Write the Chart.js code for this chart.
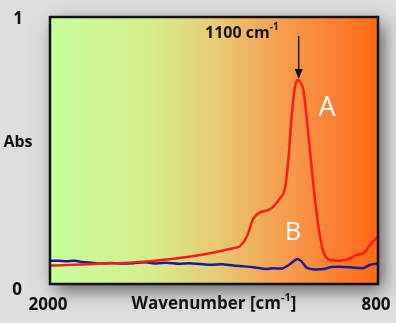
<!DOCTYPE html>
<html>
<head>
<meta charset="utf-8">
<script src="https://cdn.jsdelivr.net/npm/chart.js@4"></script>
<style>
  html, body { margin: 0; padding: 0; background: #dedede; }
  #wrap { width: 396px; height: 323px; }
</style>
</head>
<body>
<div id="wrap"><canvas id="irChart" width="396" height="323"></canvas></div>
<script>
// spectrum A (red)
const wnA = [2000, 1939, 1817, 1695, 1573, 1451, 1330, 1305, 1280, 1256, 1232, 1207, 1183, 1159, 1140, 1128, 1116, 1104, 1095, 1085, 1073, 1055, 1037, 1018, 1000, 976, 939, 902, 878, 854, 829, 801];
const absA = [0.069, 0.071, 0.076, 0.081, 0.092, 0.109, 0.134, 0.142, 0.177, 0.246, 0.268, 0.275, 0.29, 0.321, 0.36, 0.464, 0.627, 0.735, 0.764, 0.758, 0.727, 0.564, 0.376, 0.215, 0.121, 0.09, 0.087, 0.096, 0.109, 0.115, 0.146, 0.177];

// spectrum B (blue)
const wnB = [2000, 1970, 1940, 1910, 1880, 1850, 1817, 1780, 1740, 1695, 1650, 1610, 1573, 1530, 1490, 1451, 1410, 1370, 1330, 1290, 1250, 1207, 1180, 1150, 1128, 1110, 1095, 1080, 1062, 1040, 1000, 970, 940, 902, 870, 854, 829, 801];
const absB = [0.087, 0.087, 0.085, 0.087, 0.082, 0.08, 0.077, 0.079, 0.077, 0.078, 0.081, 0.077, 0.08, 0.076, 0.078, 0.075, 0.072, 0.074, 0.069, 0.066, 0.062, 0.056, 0.059, 0.058, 0.07, 0.084, 0.094, 0.085, 0.062, 0.055, 0.056, 0.064, 0.065, 0.063, 0.06, 0.059, 0.072, 0.077];

const xTicks = ["2000", "800"];
const yTicks = ["1", "0"];

function toPoints(xs, ys) {
    return xs.map((x, i) => ({ x: x, y: ys[i] }));
}

const decor = {
    id: "decor",
    beforeDraw(chart) {
        const ctx = chart.ctx;
        const a = chart.chartArea;
        ctx.save();
        ctx.fillStyle = "#dedede";
        ctx.fillRect(0, 0, chart.width, chart.height);
        // shadow behind the box
        ctx.shadowColor = "rgba(0,0,0,0.6)";
        ctx.shadowBlur = 18;
        ctx.shadowOffsetX = 5;
        ctx.shadowOffsetY = 6;
        const g = ctx.createLinearGradient(a.left, 0, a.right, 0);
        g.addColorStop(0, "#c8ff9c");
        g.addColorStop(0.3, "#d6ee8c");
        g.addColorStop(0.5, "#e6cc74");
        g.addColorStop(0.7, "#f5a050");
        g.addColorStop(0.85, "#fb8236");
        g.addColorStop(1, "#ff6812");
        ctx.fillStyle = g;
        ctx.fillRect(a.left, a.top, a.right - a.left, a.bottom - a.top);
        ctx.restore();
    },
    afterDraw(chart) {
        const ctx = chart.ctx;
        const a = chart.chartArea;
        const xs = chart.scales.x;
        ctx.save();
        ctx.strokeStyle = "#111";
        ctx.lineWidth = 2.5;
        ctx.strokeRect(a.left, a.top, a.right - a.left, a.bottom - a.top);

        ctx.fillStyle = "#111";
        ctx.textBaseline = "middle";
        ctx.textAlign = "center";
        ctx.font = "bold 17px 'Open Sans'";
        ctx.fillText(yTicks[0], 18, a.top + 2);
        ctx.fillText(yTicks[1], 17, a.bottom + 6);
        ctx.fillText(xTicks[0], 48, a.bottom + 21);
        ctx.fillText(xTicks[1], 376, a.bottom + 21);
        ctx.font = "bold 16px 'Open Sans'";
        ctx.fillText("Abs", 18, 142);

        // axis title with superscript
        ctx.textAlign = "left";
        const t1 = "Wavenumber [cm", t2 = "-1", t3 = "]";
        ctx.font = "bold 17px 'Open Sans'";
        const w1 = ctx.measureText(t1).width, w3 = ctx.measureText(t3).width;
        ctx.font = "bold 11px 'Open Sans'";
        const w2 = ctx.measureText(t2).width;
        let x0 = 214 - (w1 + w2 + w3) / 2;
        ctx.font = "bold 17px 'Open Sans'";
        ctx.fillText(t1, x0, a.bottom + 20);
        ctx.font = "bold 11px 'Open Sans'";
        ctx.fillText(t2, x0 + w1, a.bottom + 14);
        ctx.font = "bold 17px 'Open Sans'";
        ctx.fillText(t3, x0 + w1 + w2, a.bottom + 20);

        // peak annotation
        const px = xs.getPixelForValue(1090);
        ctx.font = "bold 16px 'Open Sans'";
        const s1 = "1100 cm";
        const ws1 = ctx.measureText(s1).width;
        ctx.fillText(s1, 205, 33);
        ctx.font = "bold 10px 'Open Sans'";
        ctx.fillText("-1", 205 + ws1, 27);

        ctx.strokeStyle = "#111";
        ctx.lineWidth = 1.3;
        ctx.beginPath();
        ctx.moveTo(px, 36);
        ctx.lineTo(px, 72);
        ctx.stroke();
        ctx.fillStyle = "#111";
        ctx.beginPath();
        ctx.moveTo(px - 4, 69);
        ctx.lineTo(px + 4, 69);
        ctx.lineTo(px, 79);
        ctx.closePath();
        ctx.fill();

        ctx.fillStyle = "#ffffff";
        ctx.textAlign = "center";
        ctx.font = "27px 'Open Sans'";
        ctx.fillText("A", 327, 108);
        ctx.font = "25px 'Open Sans'";
        ctx.fillText("B", 293, 233);
        ctx.restore();
    }
};

new Chart(document.getElementById("irChart"), {
    type: "line",
    data: {
        datasets: [
            {
                label: "A",
                data: toPoints(wnA, absA),
                borderColor: "#ff1a1a",
                borderWidth: 2.5,
                pointRadius: 0,
                tension: 0.4,
                cubicInterpolationMode: "monotone"
            },
            {
                label: "B",
                data: toPoints(wnB, absB),
                borderColor: "#1a1a9a",
                borderWidth: 2.5,
                pointRadius: 0,
                tension: 0.2
            }
        ]
    },
    options: {
        responsive: false,
        animation: false,
        layout: { padding: { left: 50, right: 18, top: 17, bottom: 39 } },
        plugins: { legend: { display: false }, tooltip: { enabled: false } },
        scales: {
            x: { type: "linear", min: 800, max: 2000, reverse: true, display: false },
            y: { min: 0, max: 1, display: false }
        }
    },
    plugins: [decor]
});
</script>
</body>
</html>
